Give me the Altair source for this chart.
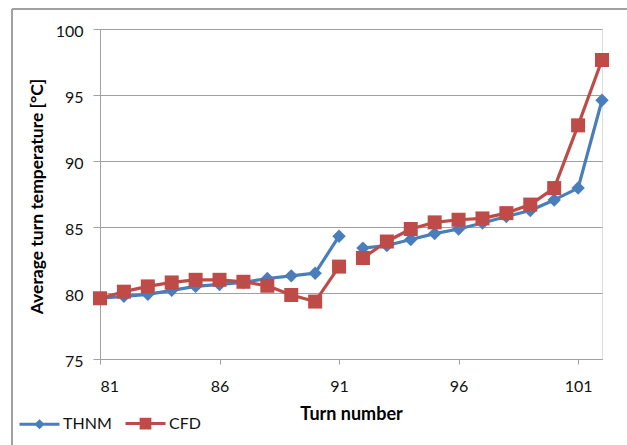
import altair as alt
import pandas as pd

turns = list(range(81, 103))
thnm = [79.6, 79.75, 79.9, 80.2, 80.5, 80.65, 80.8, 81.1, 81.3, 81.5, 84.3,
        83.4, 83.6, 84.05, 84.5, 84.85, 85.3, 85.8, 86.25, 87.05, 87.95, 94.6]
cfd = [79.6, 80.1, 80.5, 80.8, 81.0, 81.0, 80.85, 80.55, 79.85, 79.35, 82.0,
       82.65, 83.9, 84.85, 85.35, 85.55, 85.65, 86.05, 86.7, 87.95, 92.7, 97.65]
series_names = ["THNM", "CFD"]
series_colors = ["#4a7ebb", "#be4b48"]
x_ticks = [81, 86, 91, 96, 101]
y_ticks = [75, 80, 85, 90, 95, 100]

rows = []
for name, vals in zip(series_names, [thnm, cfd]):
    for t, v in zip(turns, vals):
        rows.append({"turn": t, "temp": v, "series": name,
                     "segment": name + ("-a" if t <= 91 else "-b")})
df = pd.DataFrame(rows)

FONT = "Lato"
GRAY = "#a0a0a0"

x_enc = alt.X("turn:Q",
              scale=alt.Scale(domain=[81, 102], nice=False, zero=False),
              axis=alt.Axis(values=x_ticks, grid=False, tickSize=5, tickColor=GRAY,
                            domainColor=GRAY, labelFont=FONT, labelFontSize=16,
                            labelColor="#111111", labelPadding=14,
                            title="Turn number", titleFont=FONT, titleFontSize=18,
                            titleFontWeight="bold", titleColor="#000000",
                            titleX=251, titleY=55, titleBaseline="middle"))
y_enc = alt.Y("temp:Q",
              scale=alt.Scale(domain=[75, 100], nice=False, zero=False),
              axis=alt.Axis(values=y_ticks, grid=True, gridColor=GRAY, tickSize=7,
                            tickColor=GRAY, domainColor=GRAY, labelFont=FONT,
                            labelFontSize=16, labelColor="#111111", labelPadding=10,
                            labelOffset=2,
                            title="Average turn temperature [°C]", titleFont=FONT,
                            titleFontSize=17.5, titleFontWeight="bold",
                            titleColor="#000000", titleX=-63, titleY=167,
                            titleBaseline="middle", titleAlign="center"))

base = alt.Chart(df)
layers = []
shapes = ["diamond", "square"]
sizes = [180, 196]
for name, col, shp, sz in zip(series_names, series_colors, shapes, sizes):
    sub = base.transform_filter(alt.datum.series == name)
    layers.append(sub.mark_line(strokeWidth=3.2, strokeJoin="round").encode(
        x=x_enc, y=y_enc, detail="segment:N", color=alt.value(col)))
    layers.append(sub.mark_point(filled=True, size=sz, opacity=1).encode(
        x=x_enc, y=y_enc, shape=alt.value(shp), color=alt.value(col)))

leg_paths = ["M-1,0L1,0M0,-0.15L0.15,0L0,0.15L-0.15,0Z",
             "M-1,0L1,0M-0.22,-0.22L0.22,-0.22L0.22,0.22L-0.22,0.22Z"]
leg = alt.Legend(title=None, orient="none", legendX=-82, legendY=373,
                 direction="horizontal", symbolSize=1600, symbolStrokeWidth=3,
                 symbolOpacity=1, labelFont=FONT, labelFontSize=16,
                 labelColor="#111111", labelOffset=2, columnPadding=7, padding=0)
legend_layer = base.transform_filter("false").mark_point(filled=True, opacity=1).encode(
    x=x_enc, y=y_enc,
    fill=alt.Fill("series:N", scale=alt.Scale(domain=series_names, range=series_colors), legend=leg),
    stroke=alt.Stroke("series:N", scale=alt.Scale(domain=series_names, range=series_colors), legend=leg),
    shape=alt.Shape("series:N", scale=alt.Scale(domain=series_names, range=leg_paths), legend=leg),
)

border_left = alt.Chart(df).mark_rule(color=GRAY, strokeWidth=1).encode(
    x=alt.value(-88), y=alt.value(-20), y2=alt.value(430))
border_top = alt.Chart(df).mark_rule(color=GRAY, strokeWidth=1).encode(
    x=alt.value(-88), x2=alt.value(540), y=alt.value(-20))

chart = alt.layer(border_left, border_top, *layers, legend_layer).properties(
    width=502, height=330,
    autosize=alt.AutoSizeParams(type="none"),
    padding={"left": 100, "top": 29, "right": 25, "bottom": 86},
).configure_view(stroke=None).configure(background="white")

chart.save("out.html", embed_options={"renderer": "svg", "actions": False})
